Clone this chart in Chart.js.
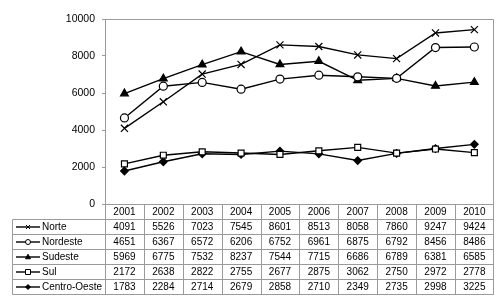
<!DOCTYPE html>
<html lang="pt">

<head>
    <meta charset="UTF-8">
    <title>Regiões 2001-2010</title>
    <style>
        body { margin: 0; background: #fff; }
    </style>
</head>

<body>
    <div style="width: 500px; height: 308px;">
        <canvas id="myChart" width="500" height="308"></canvas>
    </div>
    <script src="https://cdn.jsdelivr.net/npm/chart.js"></script>

    <script>
        const anos = ["2001", "2002", "2003", "2004", "2005", "2006", "2007", "2008", "2009", "2010"];
        const norte = [4091, 5526, 7023, 7545, 8601, 8513, 8058, 7860, 9247, 9424];
        const nordeste = [4651, 6367, 6572, 6206, 6752, 6961, 6875, 6792, 8456, 8486];
        const sudeste = [5969, 6775, 7532, 8237, 7544, 7715, 6686, 6789, 6381, 6585];
        const sul = [2172, 2638, 2822, 2755, 2677, 2875, 3062, 2750, 2972, 2778];
        const centroOeste = [1783, 2284, 2714, 2679, 2858, 2710, 2349, 2735, 2998, 3225];
        const yTicks = [0, 2000, 4000, 6000, 8000, 10000];

        const FAMILY = '"Liberation Sans", Arial, sans-serif';
        const FONT = '10px ' + FAMILY;
        const GRID = "#9a9a9a";

        function serie(label, data, style, radius, fill) {
            return {
                label: label,
                data: data,
                borderColor: "#000",
                borderWidth: 1.4,
                pointStyle: style,
                pointRadius: radius,
                pointHoverRadius: radius,
                pointBorderColor: "#000",
                pointBorderWidth: 1.2,
                pointBackgroundColor: fill,
                tension: 0
            };
        }

        const v_datasets = [
            serie("Norte", norte, "crossRot", 5, "#000"),
            serie("Nordeste", nordeste, "circle", 4, "#fff"),
            serie("Sudeste", sudeste, "triangle", 4.5, "#000"),
            serie("Sul", sul, "rect", 4.2, "#fff"),
            serie("Centro-Oeste", centroOeste, "rectRot", 3.8, "#000")
        ];

        // marcador pequeno da legenda
        function marcador(ctx, estilo, x, y, r, fill) {
            ctx.beginPath();
            if (estilo === "crossRot") {
                ctx.moveTo(x - r, y - r); ctx.lineTo(x + r, y + r);
                ctx.moveTo(x - r, y + r); ctx.lineTo(x + r, y - r);
                ctx.stroke();
                return;
            }
            if (estilo === "circle") {
                ctx.arc(x, y, r, 0, Math.PI * 2);
            } else if (estilo === "triangle") {
                ctx.moveTo(x, y - r * 1.1); ctx.lineTo(x + r, y + r * 0.7); ctx.lineTo(x - r, y + r * 0.7);
                ctx.closePath();
            } else if (estilo === "rect") {
                ctx.rect(x - r, y - r, r * 2, r * 2);
            } else {
                ctx.moveTo(x, y - r); ctx.lineTo(x + r, y); ctx.lineTo(x, y + r); ctx.lineTo(x - r, y);
                ctx.closePath();
            }
            ctx.fillStyle = fill;
            ctx.fill();
            ctx.stroke();
        }

        // desenha a tabela de dados abaixo do gráfico
        const tabelaPlugin = {
            id: "tabela",
            afterDraw(chart) {
                const ctx = chart.ctx;
                const area = chart.chartArea;
                const xs = chart.scales.x;
                const colW = (area.right - area.left) / anos.length;
                const rowH = 15;
                const top = Math.round(area.bottom) + 0.5;
                const headBot = top + 15;
                const tabLeft = 12.5;
                const bottom = headBot + rowH * v_datasets.length;
                const L = Math.round(area.left) + 0.5;
                const R = Math.round(area.right) - 0.5;

                ctx.save();
                ctx.strokeStyle = GRID;
                ctx.lineWidth = 1;

                // moldura da área do gráfico
                ctx.beginPath();
                ctx.moveTo(L, Math.round(area.top) + 0.5);
                ctx.lineTo(R, Math.round(area.top) + 0.5);
                ctx.lineTo(R, top);
                ctx.stroke();

                ctx.beginPath();
                ctx.moveTo(L, top); ctx.lineTo(R, top);
                for (let i = 0; i <= v_datasets.length; i++) {
                    const y = headBot + i * rowH;
                    ctx.moveTo(tabLeft, y); ctx.lineTo(R, y);
                }
                for (let i = 0; i <= anos.length; i++) {
                    const x = Math.min(Math.round(area.left + i * colW) + 0.5, R);
                    ctx.moveTo(x, top); ctx.lineTo(x, bottom);
                }
                ctx.moveTo(tabLeft, headBot); ctx.lineTo(tabLeft, bottom);
                ctx.stroke();

                ctx.fillStyle = "#000";
                ctx.font = FONT;
                ctx.textBaseline = "middle";
                ctx.textAlign = "center";
                for (let i = 0; i < anos.length; i++) {
                    const cx = xs.getPixelForValue(i);
                    ctx.fillText(anos[i], cx, top + 7.5);
                    for (let k = 0; k < v_datasets.length; k++) {
                        ctx.fillText(String(v_datasets[k].data[i]), cx, headBot + k * rowH + 7.5);
                    }
                }

                // legenda dentro da tabela
                ctx.textAlign = "left";
                for (let k = 0; k < v_datasets.length; k++) {
                    const ds = v_datasets[k];
                    const y = headBot + k * rowH + 7.5;
                    ctx.strokeStyle = "#000";
                    ctx.lineWidth = 1.4;
                    ctx.beginPath();
                    ctx.moveTo(16, y); ctx.lineTo(40, y);
                    ctx.stroke();
                    ctx.lineWidth = 1;
                    marcador(ctx, ds.pointStyle, 28, y, ds.pointStyle === "crossRot" ? 2 : 2.5, ds.pointBackgroundColor);
                    ctx.fillStyle = "#000";
                    ctx.fillText(ds.label, 42, y);
                }
                ctx.restore();
            }
        };

        new Chart(document.getElementById("myChart"), {
            type: "line",
            data: {
                labels: anos,
                datasets: v_datasets
            },
            plugins: [tabelaPlugin],
            options: {
                responsive: false,
                animation: false,
                layout: {
                    padding: { top: 19, right: 6, bottom: 104, left: 0 }
                },
                plugins: {
                    legend: { display: false },
                    tooltip: { enabled: false }
                },
                scales: {
                    x: {
                        display: false,
                        offset: true
                    },
                    y: {
                        min: 0,
                        max: 10000,
                        afterBuildTicks(scale) {
                            scale.ticks = yTicks.map(v => ({ value: v }));
                        },
                        afterFit(scale) {
                            scale.width = 105;
                        },
                        ticks: {
                            color: "#000",
                            font: { family: FAMILY, size: 10.5 },
                            padding: 7,
                            callback: v => String(v)
                        },
                        grid: {
                            drawOnChartArea: false,
                            color: GRID,
                            tickLength: 3
                        },
                        border: { color: GRID, width: 1 }
                    }
                }
            }
        });
    </script>
</body>

</html>
